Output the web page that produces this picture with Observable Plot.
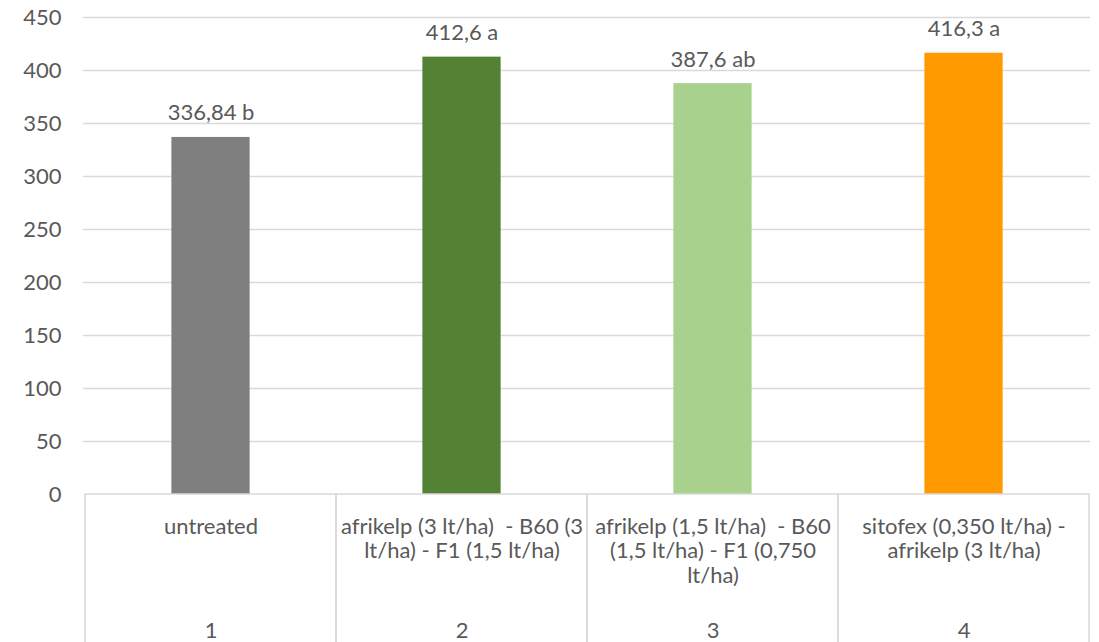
<!DOCTYPE html>
<html>
<head>
<meta charset="utf-8">
<script src="https://cdn.jsdelivr.net/npm/d3@7"></script>
<script src="https://cdn.jsdelivr.net/npm/@observablehq/plot@0.6"></script>
<style>
  html, body { margin: 0; padding: 0; background: #fff; }
</style>
</head>
<body>
<div id="chart"></div>
<script>
const categories = ["1", "2", "3", "4"];
const categoryLabels = [
  "untreated",
  "afrikelp (3 lt/ha)  - B60 (3\nlt/ha) - F1 (1,5 lt/ha)",
  "afrikelp (1,5 lt/ha)  - B60\n(1,5 lt/ha) - F1 (0,750\nlt/ha)",
  "sitofex (0,350 lt/ha) -\nafrikelp (3 lt/ha)"
];
const values = [336.84, 412.6, 387.6, 416.3];
const letters = ["b", "a", "ab", "a"];
const colors = ["#7f7f7f", "#548235", "#a9d18e", "#ff9900"];
const yTicks = [0, 50, 100, 150, 200, 250, 300, 350, 400, 450];

const data = categories.map((c, i) => ({
  cat: c, label: categoryLabels[i], value: values[i], letter: letters[i], color: colors[i]
}));

const W = 1099, H = 642, mL = 83, mR = 9, mT = 17, mB = 148;
const step = (W - mL - mR) / categories.length;
const barW = 79;
const inset = (step - barW) / 2;
const txt = "#595959";
const grid = "#d9d9d9";
const fmt = v => String(v).replace(".", ",");

const chart = Plot.plot({
  width: W, height: H,
  marginLeft: mL, marginRight: mR, marginTop: mT, marginBottom: mB,
  style: { fontFamily: "Lato, sans-serif", fontSize: "22px", color: txt, background: "#fff" },
  x: { domain: categories, padding: 0, axis: null },
  y: { domain: [0, 450], axis: null },
  color: { type: "identity" },
  marks: [
    Plot.ruleY(yTicks.filter(t => t > 0), { stroke: grid, strokeWidth: 1.5 }),
    Plot.barY(data, { x: "cat", y: "value", fill: "color", insetLeft: inset, insetRight: inset }),
    Plot.barY(data, { x: "cat", y1: 0, y2: -145, fill: "none", stroke: grid, strokeWidth: 1.5 }),
    Plot.text(data, { x: "cat", y: "value", text: d => fmt(d.value) + " " + d.letter, dy: -24, fill: txt, fontSize: 22 }),
    Plot.text(data, { x: "cat", y: 0, text: "label", lineAnchor: "top", dy: 22, lineHeight: 1.11, fill: txt, fontSize: 22 }),
    Plot.text(data, { x: "cat", y: 0, text: "cat", dy: 136, fill: txt, fontSize: 22 }),
    Plot.axisY({ ticks: yTicks, tickSize: 0, tickPadding: 22, fontSize: 22, fill: txt, label: null })
  ]
});
document.getElementById("chart").appendChild(chart);
</script>
</body>
</html>
